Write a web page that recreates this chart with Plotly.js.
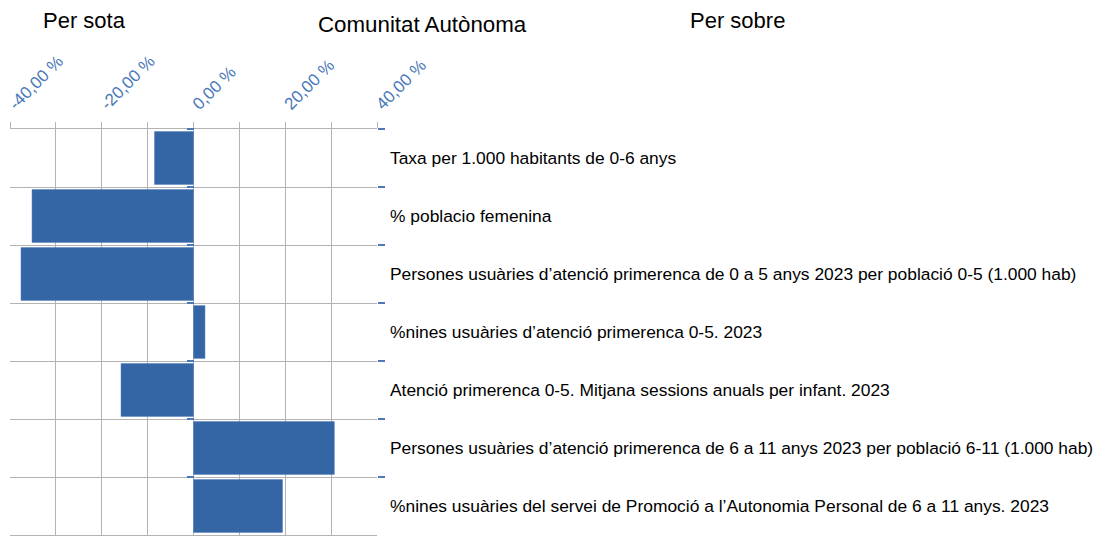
<!DOCTYPE html>
<html>
<head>
<meta charset="utf-8">
<script src="https://cdn.plot.ly/plotly-3.0.1.min.js"></script>
<style>html,body{margin:0;padding:0;background:#fff;}#chart{width:1109px;height:536px;}</style>
</head>
<body>
<div id="chart"></div>
<script>
const categories = [
  "Taxa per 1.000 habitants de 0-6 anys",
  "% poblacio femenina",
  "Persones usuàries d’atenció primerenca de 0 a 5 anys 2023 per població 0-5 (1.000 hab)",
  "%nines usuàries d’atenció primerenca 0-5. 2023",
  "Atenció primerenca 0-5. Mitjana sessions anuals per infant. 2023",
  "Persones usuàries d’atenció primerenca de 6 a 11 anys 2023 per població 6-11 (1.000 hab)",
  "%nines usuàries del servei de Promoció a l’Autonomia Personal de 6 a 11 anys. 2023"
];
const values = [-8.5, -35.2, -37.6, 2.5, -15.8, 30.7, 19.4];
const tickVals = [-40, -30, -20, -10, 0, 10, 20, 30, 40];
const tickText = ["-40,00 %", "", "-20,00 %", "", "0,00 %", "", "20,00 %", "", "40,00 %"];
const titleLeft = "Per sota";
const titleMid = "Comunitat Autònoma";
const titleRight = "Per sobre";

const blue = "#3465a4";
const tickBlue = "#4a78b8";
const grid = "#b3b3b3";
const font = "Liberation Sans, Arial, sans-serif";

const data = [
  {type: "bar", orientation: "h", x: values, y: categories,
   marker: {color: blue, line: {color: "#4f7fc0", width: 0.5}},
   hoverinfo: "skip", xaxis: "x", yaxis: "y"},
  {type: "scatter", mode: "markers", x: values, y: categories,
   marker: {size: 1, opacity: 0}, cliponaxis: true,
   hoverinfo: "skip", xaxis: "x", yaxis: "y2", showlegend: false}
];

const W = 1109, H = 536, L = 10, R = 377, T = 129, B = 535;
const px = v => (v - L) / (R - L);
const py = v => (B - v) / (B - T);

const layout = {
  width: W, height: H,
  margin: {l: L, r: W - R, t: T, b: H - B, pad: 0},
  paper_bgcolor: "#fff", plot_bgcolor: "#fff",
  showlegend: false,
  bargap: 0.09,
  font: {family: font, color: "#000"},
  xaxis: {
    side: "top", range: [-40, 40], tickvals: tickVals, ticktext: tickText,
    tickangle: -45, ticks: "outside", ticklen: 6, tickcolor: grid,
    showgrid: true, gridcolor: grid, gridwidth: 1, zeroline: false,
    showline: true, linecolor: grid, mirror: true,
    tickfont: {family: font, size: 17, color: tickBlue}, ticklabelstandoff: 2,
    fixedrange: true
  },
  yaxis: {
    side: "right", type: "category", range: [6.5, -0.5], tickson: "boundaries",
    ticks: "outside", ticklen: 7, tickwidth: 1.5, tickcolor: tickBlue, showgrid: true,
    gridcolor: grid, gridwidth: 1, zeroline: false, showline: false,
    tickfont: {family: font, size: 17.4, color: "#000"}, ticklabelstandoff: 12,
    fixedrange: true
  },
  yaxis2: {
    overlaying: "y", anchor: "free", position: 0.5, side: "left", type: "category",
    categoryorder: "array", categoryarray: categories,
    range: [6.5, -0.5], tickson: "boundaries", ticks: "outside", ticklen: 7, tickwidth: 1.5,
    tickcolor: tickBlue, showticklabels: false, showgrid: false, zeroline: false,
    showline: false, fixedrange: true
  },
  annotations: [
    {text: titleLeft, xref: "paper", yref: "paper", x: px(84), y: py(20), showarrow: false,
     xanchor: "center", yanchor: "middle", font: {family: font, size: 22, color: "#000"}},
    {text: titleMid, xref: "paper", yref: "paper", x: px(422.5), y: py(24), showarrow: false,
     xanchor: "center", yanchor: "middle", font: {family: font, size: 22.3, color: "#000"}},
    {text: titleRight, xref: "paper", yref: "paper", x: px(737), y: py(20), showarrow: false,
     xanchor: "center", yanchor: "middle", font: {family: font, size: 22, color: "#000"}}
  ]
};

Plotly.newPlot("chart", data, layout, {displayModeBar: false, staticPlot: true});
</script>
</body>
</html>
